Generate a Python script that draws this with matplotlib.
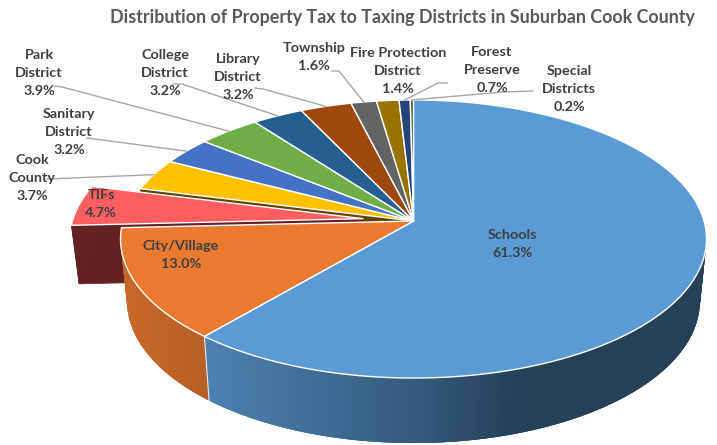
#!/usr/bin/env python
# coding: utf-8

"""Perspective pie of property tax distribution, suburban Cook County"""

import matplotlib.pyplot as pl
import numpy as np
from matplotlib.colors import to_rgb

pl.switch_backend("agg")

names = [
    "Schools", "City/Village", "TIFs", "Cook\nCounty", "Sanitary\nDistrict",
    "Park\nDistrict", "College\nDistrict", "Library\nDistrict", "Township",
    "Fire Protection\nDistrict", "Forest\nPreserve", "Special\nDistricts",
]
shares = [61.3, 13.0, 4.7, 3.7, 3.2, 3.9, 3.2, 3.2, 1.6, 1.4, 0.7, 0.2]
colors = [
    "#5B9BD5", "#E97A30", "#FF5F5F", "#FFC000", "#4472C4", "#70AD47",
    "#255E91", "#9E480E", "#636363", "#997300", "#264478", "#43682B",
]
label_x = [512, 181, 101, 32, 69, 39, 165, 238, 314, 398, 492, 569]
label_y = [244, 255, 204, 178, 132, 73, 73, 77, 57, 71, 70, 89]
# label corner the leader starts from, then its elbow
leader_start = {
    3: (47, 179), 4: (87, 138), 5: (55, 86), 6: (173, 84),
    7: (255, 88), 8: (332, 71), 10: (447, 83), 11: (533, 91),
}
leader_elbow = {
    3: (47, 179), 4: (87, 138), 5: (62, 87), 6: (182, 84),
    7: (263, 89), 8: (339, 71), 10: (438, 83), 11: (503, 92),
}

pl.rcParams["font.family"] = ["Lato", "DejaVu Sans"]

fractions = np.array(shares) / np.sum(shares)
edges = np.concatenate([[0], np.cumsum(fractions)]) * 2 * np.pi

CX = 413.5
PERSP = 0.1295
TOP = dict(y0=221.0, a=290.5, b=136.7)
BOTTOM = dict(y0=282.8, a=284.0, b=139.5)
BOTTOM_TIF = dict(y0=279.5, a=284.0, b=139.5)
EXPLODE = 0.175


def project(t, plane, offset=(0.0, 0.0)):
    """Circle angle (clockwise from 12 o'clock) to pixel coordinates"""
    c = np.sin(t) + offset[0]
    s = -np.cos(t) + offset[1]
    w = 1 - PERSP * s
    return CX + plane["a"] * c / w, plane["y0"] + plane["b"] * s / w


def apex(plane, offset=(0.0, 0.0)):
    w = 1 - PERSP * offset[1]
    return CX + plane["a"] * offset[0] / w, plane["y0"] + plane["b"] * offset[1] / w


def top_face(ax, i, offset=(0.0, 0.0), zorder=5):
    t = np.linspace(edges[i], edges[i + 1], 200)
    x, y = project(t, TOP, offset)
    ax0, ay0 = apex(TOP, offset)
    ax.fill(
        np.r_[ax0, x], np.r_[ay0, y], facecolor=colors[i],
        edgecolor="white", lw=1.0, joinstyle="round", zorder=zorder,
    )


def side_wall(ax, i, shade_x, shade_v, bottom=BOTTOM, offset=(0.0, 0.0), zorder=3):
    # each strip runs over the next one so no seams show
    t = np.linspace(edges[i], edges[i + 1], 240)
    xt, yt = project(t, TOP, offset)
    xb, yb = project(t, bottom, offset)
    base = np.array(to_rgb(colors[i]))
    for j in range(len(t) - 1):
        k = min(j + 3, len(t) - 1)
        col = base * np.interp(xt[j], shade_x, shade_v)
        ax.fill(
            [xt[j], xt[k], xb[k], xb[j]],
            [yt[j], yt[k], yb[k], yb[j]],
            facecolor=col, edgecolor="none", zorder=zorder,
        )


def radial_face(ax, t, color, bottom=BOTTOM, offset=(0.0, 0.0), zorder=1):
    xt, yt = project(t, TOP, offset)
    xb, yb = project(t, bottom, offset)
    a0 = apex(TOP, offset)
    a1 = apex(bottom, offset)
    ax.fill(
        [a0[0], xt, xb, a1[0]], [a0[1], yt, yb, a1[1]],
        facecolor=color, edgecolor=color, lw=0.5, zorder=zorder,
    )


fig = pl.figure(figsize=(7.17, 4.45), dpi=100)
ax = fig.add_axes([0, 0, 1, 1])
ax.set_xlim(0, 717)
ax.set_ylim(445, 0)
ax.axis("off")

# exploded TIF slice, pushed out along its middle angle
mid = 0.5 * (edges[2] + edges[3])
tif_off = (EXPLODE * np.sin(mid), -EXPLODE * np.cos(mid))

radial_face(ax, edges[3], "#5E4400", zorder=1)
radial_face(ax, edges[2], "#632123", BOTTOM_TIF, tif_off, zorder=2)
side_wall(ax, 2, [0, 717], [0.39, 0.39], BOTTOM_TIF, tif_off, zorder=2)
top_face(ax, 2, tif_off, zorder=2.5)

side_wall(ax, 0, [203, 420, 520, 717], [0.84, 0.58, 0.41, 0.41])
side_wall(ax, 1, [120, 205], [0.86, 0.78])
xt, yt = project(edges[1], TOP)
xb, yb = project(edges[1], BOTTOM)
ax.plot([xt, xb], [yt, yb], color="#e8e8e8", lw=0.8, zorder=4)

for i in range(len(shares)):
    if i != 2:
        top_face(ax, i)

for i, start in leader_start.items():
    end = project(0.5 * (edges[i] + edges[i + 1]), TOP)
    elbow = leader_elbow[i]
    ax.plot(
        [start[0], elbow[0], end[0]], [start[1], elbow[1], end[1]],
        color="#A6A6A6", lw=1.0, zorder=6,
    )

for i in range(len(shares)):
    ax.text(
        label_x[i], label_y[i], f"{names[i]}\n{shares[i]:.1f}%",
        ha="center", va="center", ma="center", fontsize=10.4,
        fontweight="bold", color="#404040", linespacing=1.62, zorder=7,
    )

ax.text(
    402.5, 17, "Distribution of Property Tax to Taxing Districts in Suburban Cook County",
    ha="center", va="center", fontsize=12.9, fontweight="bold", color="#595959",
)

fig.savefig("out.png", dpi=100)
pl.close(fig)
